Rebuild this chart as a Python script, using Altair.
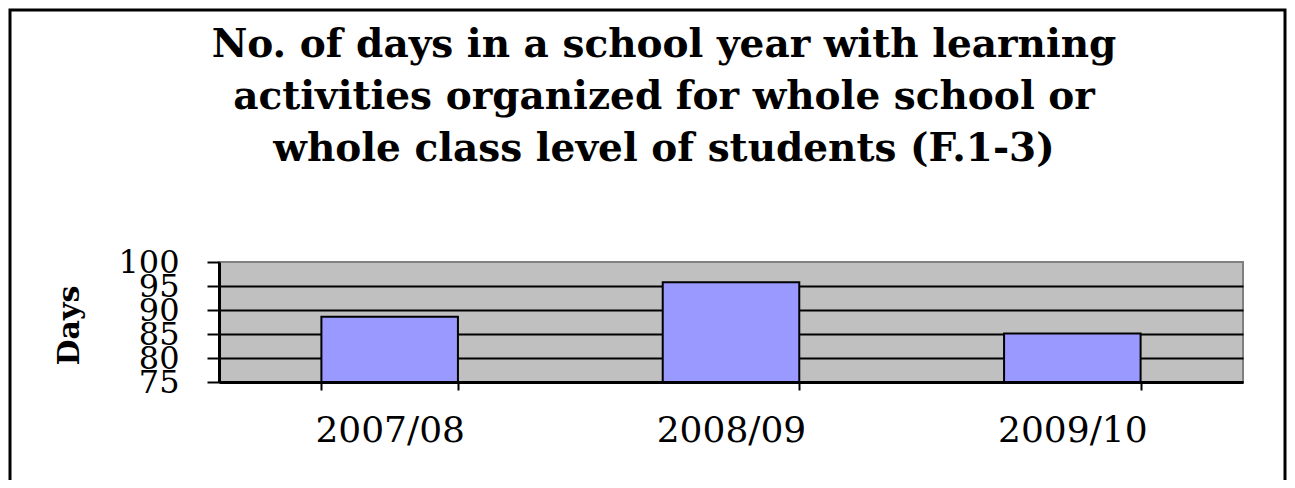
import altair as alt
import pandas as pd

years = ["2007/08", "2008/09", "2009/10"]
days = [88.6, 95.8, 85.1]
y_min = 75
y_max = 100
y_ticks = [75, 80, 85, 90, 95, 100]
title_lines = [
    "No. of days in a school year with learning",
    "activities organized for whole school or",
    "whole class level of students (F.1-3)",
]

df = pd.DataFrame({"year": years, "days": days, "base": [y_min] * len(years)})

SERIF = "DejaVu Serif"

bars = alt.Chart(df).mark_bar(
    fill="#9999FF", stroke="black", strokeWidth=2
).encode(
    x=alt.X(
        "year:N",
        sort=years,
        scale=alt.Scale(paddingInner=0.6, paddingOuter=0.3),
        axis=alt.Axis(
            title=None,
            labelAngle=0,
            labelFont=SERIF,
            labelFontSize=36,
            labelColor="black",
            labelPadding=23,
            domainColor="black",
            domainWidth=3,
            tickColor="black",
            tickWidth=2,
            tickSize=8,
            tickBand="extent",
            grid=False,
        ),
    ),
    y=alt.Y(
        "days:Q",
        scale=alt.Scale(domain=[y_min, y_max], nice=False, zero=False),
        axis=alt.Axis(
            title="Days",
            values=y_ticks,
            labelFont=SERIF,
            labelFontSize=32,
            labelColor="black",
            labelPadding=28,
            labelOverlap=False,
            labelFlush=False,
            domainColor="black",
            domainWidth=3,
            tickColor="black",
            tickWidth=2,
            tickSize=12,
            grid=True,
            gridColor="black",
            gridWidth=2,
            gridOpacity={"condition": {"test": "datum.value === 100", "value": 0}, "value": 1},
            titleFont=SERIF,
            titleFontSize=30,
            titleFontWeight="bold",
            titleColor="black",
            titleAngle=-90,
            titleX=-150,
            titleY=63,
            titleAlign="center",
            titleBaseline="middle",
        ),
    ),
    y2=alt.Y2("base:Q"),
)

one_row = alt.Data(values=[{"k": 1}])

border = alt.Chart(one_row).mark_rect(
    filled=False, stroke="black", strokeWidth=3, clip=False
).encode(
    x=alt.value(-209),
    x2=alt.value(1066),
    y=alt.value(-252),
    y2=alt.value(230),
)

title = alt.Chart(one_row).mark_text(
    text=title_lines,
    font=SERIF,
    fontSize=39,
    fontWeight="bold",
    color="black",
    lineHeight=52,
    align="center",
    baseline="top",
).encode(
    x=alt.value(445),
    y=alt.value(-236),
)

chart = alt.layer(bars, border, title).properties(
    width=1024,
    height=120,
    autosize=alt.AutoSizeParams(type="none"),
    padding={"left": 211, "top": 254, "right": 44, "bottom": 98},
).configure(
    background="white"
).configure_view(
    fill="#C0C0C0", stroke="#808080", strokeWidth=2
)

chart.save("out.html", embed_options={"renderer": "svg", "actions": False})
